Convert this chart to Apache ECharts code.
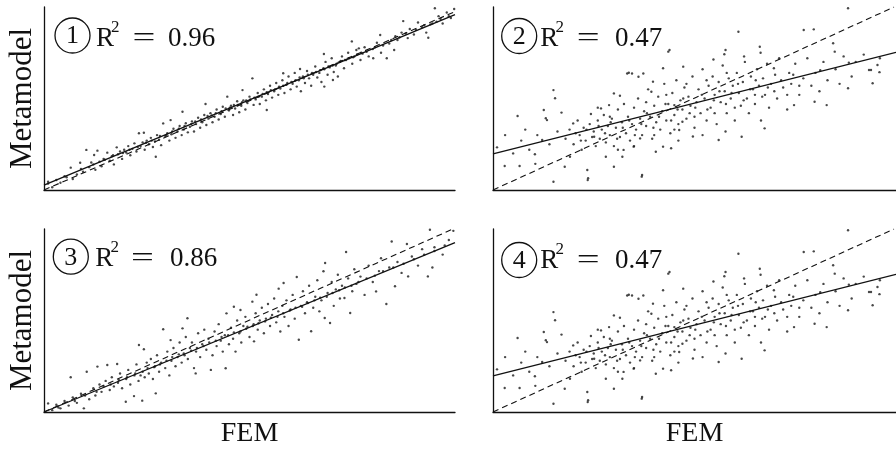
<!DOCTYPE html>
<html>
<head>
<meta charset="utf-8">
<script src="https://cdn.jsdelivr.net/npm/echarts@6/dist/echarts.min.js"></script>
<style>
  html, body { margin: 0; padding: 0; background: #fff; }
  #chart { width: 896px; height: 452px; }
</style>
</head>
<body>
<div id="chart"></div>
<script>
// 各子图的散点 [FEM, Metamodel]（坐标范围 0-100）
const panel1Points = [
  [1,3.5],[1,4.5],[2,1.5],[3,5.5],[4,4],[5,7.5],[6.5,12.2],[7,6],[8,8.5],[8.8,14.9],[9.5,10],[10.3,21.9],[11,12.5],[11.5,15],
  [12.2,19.1],[12.5,11],[13,21.5],[13.5,15.5],[14,13],[14.5,17],[15.4,20.4],[16,16],[16.5,18.5],[17,14],[17.7,23.3],[18,19.5],
  [18.5,21],[19,17],[19.5,22],[20,20.5],[20.5,24],[21,19],[21.5,22.5],[22,25.5],[22.5,21],[23.1,31],[23.5,24],[24,26],[24.3,31.3],
  [24.5,22],[25,27],[25.5,25],[26,28.5],[26.5,23.5],[27,26.5],[27.2,18.2],[27.5,30],[28,27.5],[28.5,24.5],[29,36.4],[29.5,29.5],
  [30,31],[30.5,27],[30.8,38.2],[31,30.5],[31.5,33.5],[32,28.5],[32.5,32],[33,35],[33.5,30],[33.7,42.8],[34,33],[34.5,36.5],
  [35,31.5],[35.5,34.5],[36,37.5],[36.5,32],[37,36],[37.5,39.5],[38,34],[38.5,37],[39,41],[39.3,47],[39.5,35.5],[40,39],[40.5,42],
  [41,37],[41.5,40],[42,44],[42.5,38.5],[43,41.5],[43.5,45.5],[44,40],[44.6,51],[45,43.5],[45.5,46],[46,41],[46.5,44.5],[47,48.5],
  [47.5,42.5],[48,46],[48.3,54.6],[48.5,49],[49,44],[49.5,47.5],[50,51],[50.7,61],[51,46.5],[51.5,49.5],[52,53],[52.5,47],[53,51],
  [53.5,55],[54,49],[54.2,43.7],[54.5,52.5],[55,57],[55.5,50.5],[56,54],[56.5,58.5],[57,52],[57.5,55.5],[58,60],[58.2,63.8],[58.5,53],
  [59,57.5],[59.5,62],[60,55],[60.5,58],[61,64],[61.5,56.5],[62,60],[62.3,66.1],[62.5,54],[63,62],[63.5,58.5],[64,65],[64.5,61],
  [65,57],[65.5,63],[66,67.5],[66.5,61.5],[67,64],[67.5,59],[68,66.5],[68.1,74.3],[68.2,56.5],[68.5,70],[69,63],[69.5,67],[70,72],
  [70.3,60.1],[70.5,64.5],[71,68],[71.5,62],[72,70],[72.5,73],[73,66.5],[73.5,71],[74,75],[74.9,81.2],[75,69],[75.5,73],[76,76.5],
  [76.6,77.4],[77,71],[77.5,74.5],[78,78],[79,73],[80,77],[80.1,72],[81,80.5],[81.8,84.7],[82,75],[83.4,72],[84,80],[85.2,76.5],
  [85.5,84],[86,82],[87,86],[87.4,92.3],[88.5,83],[89,88],[90,85],[91,91.5],[92,89],[93,86],[93.5,83.2],[94,90.5],[95.1,99.3],
  [95.5,92],[96,95],[97,91],[98,97],[99,94],[99.8,98.9],
  [5.5,7],[9,11.5],[12,14],[14.8,16.5],[16.8,19],[19.2,20.2],[20.8,22],[22.8,23.5],[24.8,25.8],[26.2,27],[28.2,29.5],[29.8,30],
  [31.2,32],[32.8,33.5],[34.2,35],[35.8,36],[36.8,37.5],[38.2,38.5],[39.8,40.5],[40.8,40.8],[41.8,42],[43.2,43],[44.2,44.5],
  [45.2,45],[46.2,46.5],[47.2,46.5],[48.2,48],[49.2,49],[50.2,49.5],[51.2,50.5],[52.2,51],[53.2,52.5],[54.2,53.5],[55.2,54.5],
  [56.2,55],[57.2,56.5],[58.2,57],[59.2,58.5],[60.2,59],[61.2,60],[62.2,61.5],[63.2,61],[64.2,63],[65.2,64],[66.2,64.5],
  [67.2,65.5],[68.2,66],[69.2,67.5],[70.2,68],[71.2,69],[72.2,70.5],[73.2,71],[74.2,72],[75.2,72.5],[76.2,74],[77.2,75],
  [78.5,75.5],[80.5,78],[82.5,79],[84.5,82],[86.5,83.5],[88,85.5],[90.5,87.5],[92.5,90],[94.5,91],[96.5,93.5],[98.5,95]
]

const panel3Points = [
  [1,4.7],[2,1],[3,4],[4,2],[5,6],[6,3.5],[6.5,19],[7,8],[8,5],[9,10],[9.7,2],[10.4,22],[11,7],[12,13],[12.5,9],[13,24.8],[13.5,15],
  [14,11],[15,17],[15.4,25.7],[16,12],[16.5,19],[17,14],[17.8,26.2],[18,16],[18.5,21],[19,13],[19.9,5.6],[20,18],[20.5,23],[21,15],
  [21.9,8.7],[22,20],[22.5,26],[23,17],[23.1,36.6],[23.9,6.2],[24,22],[24.3,34.3],[24.5,19],[25,27],[25.5,21],[26,29],[26.5,18],
  [27,25],[27.2,10.2],[27.5,31],[28,22],[28.5,27],[29,45.2],[29.5,24],[30,33],[30.5,20],[30.8,39.3],[31,28],[31.5,35],[32,25],
  [32.5,30],[33,38],[33.5,27],[33.7,45.7],[34,32],[34.5,41],[34.9,51.2],[35,29],[35.5,35],[36,38],[36.5,24],[36.9,21.1],[37,33],
  [37.5,43],[38,30],[38.5,37],[39,45],[39.5,34],[40,40],[40.6,23],[41,31],[41.5,44],[42,36],[42.5,48],[43,39],[43.5,33],[44,42],
  [44.2,23.9],[44.4,53.9],[45,37],[45.5,46],[46,40],[46.2,57.5],[46.6,33],[47,50],[47.5,43],[47.8,55.7],[48,38],[48.5,47],[49,52],
  [49.5,46.6],[50,41],[50.7,60.3],[51,48],[51.1,38.6],[51.5,54],[51.7,64.1],[52,45],[52.5,50],[53,57],[53.5,43],[54,51],[54.5,59],
  [55,47],[55.5,53],[56,62],[56.5,49],[57,55],[57.1,67.4],[57.5,44],[58,58],[58.3,70.5],[58.5,52],[59,61],[59.5,47],[60,56],
  [60.5,64],[61,51],[61.5,73.8],[62,39.5],[62.5,58],[63,66],[63.5,54],[64,60],[64.5,69],[65,44.1],[65.5,57],[66,63],[66.5,72],
  [67,55],[67.5,61],[68,76.9],[68.3,51.4],[68.4,81.4],[69,65],[69.6,48.6],[70,71],[70.5,58],[71,67],[71.5,75],[72,62],[72.5,69],
  [73.1,62.3],[73.5,87.4],[74,73],[74.5,54.1],[75,66],[75.5,78],[76,70],[77,74],[78,64],[79,80],[80,71],[80.8,65.9],[81.5,77],
  [82,84],[83.3,59],[84,79],[84.6,93.2],[85.4,68.7],[86,82],[87,76],[88.3,91.8],[88.6,74.1],[89.5,85],[91,80],[92,89],[93.4,74.1],
  [93.9,99.6],[94.5,79],[95,90],[97,86],[98.5,94],[99.6,99],
  [3.5,2.5],[7.5,6],[10,9],[12.8,11],[14.5,14],[16.2,15],[18.2,17.5],[20.2,19],[22.2,21],[23.5,20],[25.2,24],[26.8,24.5],
  [28.2,26],[29.8,28],[31.2,30],[32.8,31.5],[34.2,31],[35.8,33.5],[37.2,35],[38.8,36],[40.2,38],[41.8,39],[43.2,41],[44.8,42],
  [46.2,43.5],[47.8,44],[49.2,45.5],[50.8,47],[52.2,48.5],[53.8,49.5],[55.2,51.5],[56.8,52],[58.2,54],[59.8,55.5],[61.2,57],
  [62.8,57.5],[64.2,59.5],[65.8,61],[67.2,62.5],[68.8,63],[70.2,65],[71.8,66.5],[73.2,68],[74.8,69],[76.5,71],[78.5,73],
  [80.5,74.5],[82.5,77],[85,79],[87.5,81],[90,83.5],[92.5,86],[95,88],[97.5,91]
]

// 子图 2 和 4 使用同一组散点
const panel24Points = [
  [1,23.3],[2.9,13.1],[3,30],[5,20],[6.1,40.4],[6.6,13.1],[7,27],[8,33],[9,22],[10.4,19.5],[10.5,14.3],[11,30],[12.2,27.3],
  [12.6,43.7],[13.1,39.2],[13.4,38.2],[14,25],[15,54.6],[15,4.5],[15.4,50.1],[16,32],[17,42.3],[17.8,12.7],[18,28],[19,33],
  [19.1,18.2],[19.9,36.4],[20,25],[21,38],[21.5,30],[22,22],[22.5,34],[23,27],[23.4,10.9],[23.5,5.4],[23.6,6.4],[24,36],[24.3,41.5],
  [25,32],[25.1,29.1],[25.5,24],[26,38],[26.5,28],[26.8,44.6],[27,33],[27.5,41],[28,26],[28,18.2],[28.5,35],[28.8,46.4],[29,30],
  [29.5,39],[30,24],[30,52.8],[30,12.7],[30.5,34],[31,44],[31.5,29],[31.5,51.5],[32,37],[32.1,18.2],[32.4,21.9],[32.5,47],[33,31],
  [33.3,63.7],[33.5,40],[33.7,64.1],[34,27],[34.5,36],[34.5,63.7],[34.9,23.7],[35,45],[35.5,33],[36,50],[36.1,61.9],[36.5,39],
  [36.5,28.2],[36.9,7.3],[37,30],[37,8.2],[37.3,63.7],[37.5,43],[38,35],[38.5,55],[39,40],[39.3,53.7],[39.5,28],[39.7,59.2],
  [40,46],[40.4,20.9],[40.5,37],[41,51],[41.5,33],[42,43],[42.2,23.7],[42.2,66.5],[42.5,58],[43,38],[43.5,47],[43.5,75.6],[43.8,76.5],
  [44,31],[44.2,22.8],[44.5,53],[45,41],[45,46.4],[45.5,60],[46,36],[46.2,32.8],[46.5,49],[47,44],[47,37.3],[47.2,67.4],[47.5,56],
  [48,39],[48.5,51],[49,46],[49.5,62],[49.6,29.2],[50,34],[50.5,48],[51,55],[51.5,42],[52,66],[52.5,50],[53,38],[53.5,57],[54,45],
  [54.5,62],[54.7,71.3],[55,52],[55.5,36],[56,59],[56,27.3],[56.5,48],[57,68],[57.4,74.2],[57.5,54],[57.7,76.5],[57.7,32],[58,42],
  [58.5,61],[59,50],[59.5,57],[60,38],[60.5,64],[60.9,86.5],[61,53],[61.5,46],[61.7,29.1],[62,59],[62.3,73],[62.5,70],[63,50],
  [63.5,42],[64,62],[64.5,55],[65,47],[65.5,66],[66,57],[66.2,78.3],[66.4,75],[66.5,38],[67,61],[67.4,33.7],[67.5,52],[68,69],
  [68.5,45],[69,58],[69.7,66.5],[70,63],[70.5,50],[71,72],[72,56],[73,44],[73.5,64],[74,58],[74.7,46.4],[75,69],[76,52],[77,61],
  [77.1,87.4],[78,72],[79,57],[79.6,87.8],[79.8,48.2],[80,64],[81,54],[81.2,65.5],[82,70],[82.8,46.4],[83,60],[84.4,80.2],[84.8,75.6],
  [85,66],[86,58],[87,73],[88.1,99.3],[88.1,55.6],[88.3,69.6],[89,62],[90,70],[92,74],[93.3,65.6],[93.8,65.6],[94.2,58.3],
  [95.4,68.3],[95.9,64.4],[96,72],
  [20.5,31],[21.8,27],[23.2,33],[24.6,29],[26.2,35],[27.8,31],[29.2,37],[30.8,28],[32.2,34],[33.8,38],[35.2,30],[36.8,36],
  [38.2,42],[39.8,34],[41.2,40],[42.8,47],[44.2,38],[45.8,44],[47.2,50],[48.8,42],[50.2,45],[51.8,52],[53.2,44],[54.8,49],
  [56.2,54],[57.8,47],[59.2,53],[60.8,58],[62.2,49],[63.8,55],[65.2,60],[66.8,51],[68.2,56],[69.8,54],[71.5,60],[73,52],
  [74.5,63],[76,57],[38,48],[43,52],[48,58],[53,60],[58,64],[35,24],[40,30],[45,33],[50,40],[55,42],[60,45],[65,52],[29,40],
  [26,45],[31,22],[46,27],[52,30]
]

// 回归线（实线）与 y = x 参考线（虚线）的端点
const fitLine1 = [[0, 2.7], [100, 95.8]]
const refLine1 = [[0, 0], [100, 97.5]]
const fitLine24 = [[0, 19.7], [100, 75.2]]
const refLine24 = [[0, 0], [99.5, 100]]
const fitLine3 = [[0, 0], [100, 92.5]]
const refLine3 = [[0, 0], [99.5, 100]]

const panelNums = ['1', '2', '3', '4']
const r2Values = ['0.96', '0.47', '0.86', '0.47']

const chart = echarts.init(document.getElementById('chart'), null, { renderer: 'canvas' })

const serif = '"Liberation Serif", "DejaVu Serif", serif'
const ink = '#111'

const grids = [
  { left: 44, top: 7, width: 411, height: 183 },
  { left: 493, top: 7, width: 411, height: 183 },
  { left: 44, top: 229, width: 411, height: 183 },
  { left: 493, top: 229, width: 411, height: 183 }
]

function makeAxis (i, isX) {
  const axis = {
    type: 'value',
    gridIndex: i,
    min: 0,
    max: 100,
    axisLine: { show: true, onZero: false, lineStyle: { color: ink, width: 1.3 } },
    axisTick: { show: false },
    axisLabel: { show: false },
    splitLine: { show: false }
  }
  if (isX && i >= 2) {
    axis.name = 'FEM'
    axis.nameLocation = 'middle'
    axis.nameGap = 8
    axis.nameTextStyle = { fontFamily: serif, fontSize: 28, color: ink, verticalAlign: 'top' }
  }
  if (!isX && i % 2 === 0) {
    axis.name = 'Metamodel'
    axis.nameLocation = 'middle'
    axis.nameGap = 6
    axis.nameTextStyle = { fontFamily: serif, fontSize: 31, color: ink }
  }
  return axis
}

const pointSets = [panel1Points, panel24Points, panel3Points, panel24Points]
const fitLines = [fitLine1, fitLine24, fitLine3, fitLine24]
const refLines = [refLine1, refLine24, refLine3, refLine24]

const series = []
for (let i = 0; i < 4; i++) {
  series.push({
    type: 'scatter',
    xAxisIndex: i,
    yAxisIndex: i,
    data: pointSets[i],
    symbolSize: 2.4,
    itemStyle: { color: '#1a1a1a' },
    silent: true
  })
  series.push({
    type: 'line',
    xAxisIndex: i,
    yAxisIndex: i,
    data: fitLines[i],
    showSymbol: false,
    z: 3,
    lineStyle: { color: ink, width: 1.3 }
  })
  series.push({
    type: 'line',
    xAxisIndex: i,
    yAxisIndex: i,
    data: refLines[i],
    showSymbol: false,
    z: 3,
    lineStyle: { color: ink, width: 1.1, type: [6, 4] }
  })
}

// 角标：圆圈编号 + R² 文本
const labelPos = [
  { cx: 72.5, cy: 35.5, rx: 96, sx: 111, ex: 144, vx: 168, mid: 38.5 },
  { cx: 519.2, cy: 36, rx: 540.3, sx: 555.5, ex: 588.3, vx: 615, mid: 39 },
  { cx: 70.8, cy: 256.7, rx: 95.3, sx: 110.5, ex: 142.5, vx: 170, mid: 258.5 },
  { cx: 519.2, cy: 260, rx: 540.3, sx: 555.5, ex: 588.3, vx: 615, mid: 261 }
]

const graphics = []
labelPos.forEach((p, i) => {
  graphics.push({
    type: 'circle',
    shape: { cx: p.cx, cy: p.cy, r: 17.5 },
    style: { fill: 'none', stroke: ink, lineWidth: 1.3 }
  })
  graphics.push({
    type: 'text',
    x: p.cx,
    y: p.cy + 1,
    style: { text: panelNums[i], font: '26px ' + serif, fill: ink, align: 'center', verticalAlign: 'middle' }
  })
  graphics.push({
    type: 'text',
    x: p.rx,
    y: p.mid,
    style: { text: 'R', font: '27px ' + serif, fill: ink, align: 'left', verticalAlign: 'middle' }
  })
  graphics.push({
    type: 'text',
    x: p.sx,
    y: p.mid - 11,
    style: { text: '2', font: '17px ' + serif, fill: ink, align: 'left', verticalAlign: 'middle' }
  })
  // 等号稍微拉宽，接近原图的字形
  graphics.push({
    type: 'text',
    x: p.ex,
    y: p.mid,
    scaleX: 1.45,
    style: { text: '=', font: '28px ' + serif, fill: ink, align: 'center', verticalAlign: 'middle' }
  })
  graphics.push({
    type: 'text',
    x: p.vx,
    y: p.mid,
    style: { text: r2Values[i], font: '27px ' + serif, fill: ink, align: 'left', verticalAlign: 'middle' }
  })
})

const option = {
  animation: false,
  backgroundColor: '#fff',
  grid: grids,
  xAxis: [0, 1, 2, 3].map(i => makeAxis(i, true)),
  yAxis: [0, 1, 2, 3].map(i => makeAxis(i, false)),
  series: series,
  graphic: graphics
}

chart.setOption(option)
</script>
</body>
</html>
